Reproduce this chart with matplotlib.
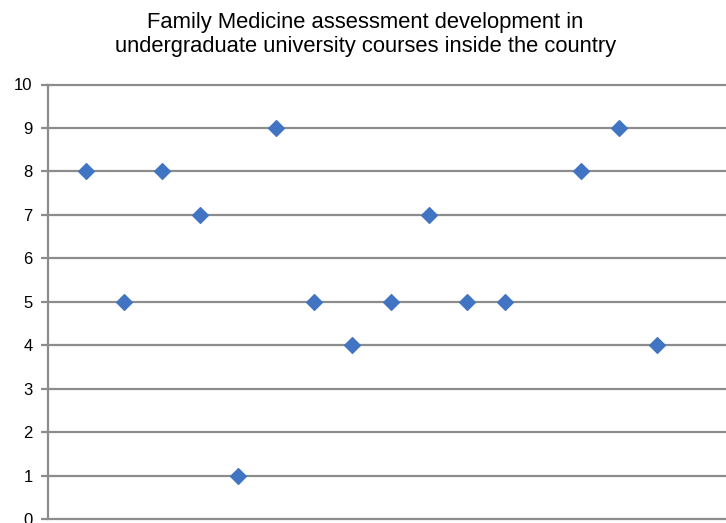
import matplotlib.pyplot as plt

# 데이터: 과목 번호(13번은 값 없음)와 점수
course_no = [1, 2, 3, 4, 5, 6, 7, 8, 9, 10, 11, 12, 14, 15, 16]
score = [8, 5, 8, 7, 1, 9, 5, 4, 5, 7, 5, 5, 8, 9, 4]
y_ticks = [0, 1, 2, 3, 4, 5, 6, 7, 8, 9, 10]

plt.rcParams['font.family'] = ['Liberation Sans', 'DejaVu Sans']

fig = plt.figure(figsize=(7.26, 5.23), dpi=100)
ax = fig.add_axes([47.9 / 726, 4 / 523, 1 - 47.9 / 726, 434.5 / 523])

ax.scatter(course_no, score, marker='D', s=64, color='#4174c2', zorder=3, clip_on=False)

ax.set_xlim(0, (726 - 47.9) / 38.07)
ax.set_ylim(0, 10)
ax.set_yticks(y_ticks)
ax.set_xticks([])
ax.grid(axis='y', color='#8c8c8c', linewidth=1.6)
ax.set_axisbelow(True)
for gl in ax.get_ygridlines():
    gl.set_clip_on(False)

for s in ['top', 'right', 'bottom']:
    ax.spines[s].set_visible(False)
ax.spines['left'].set_color('#8c8c8c')
ax.spines['left'].set_linewidth(1.6)
ax.tick_params(axis='y', length=5, width=1.6, color='#8c8c8c', labelsize=12, pad=6)

fig.text(0.503, 0.978, 'Family Medicine assessment development in\nundergraduate university courses inside the country',
         ha='center', va='top', fontsize=15.8, linespacing=1.2)

fig.savefig('out.png', dpi=100)
